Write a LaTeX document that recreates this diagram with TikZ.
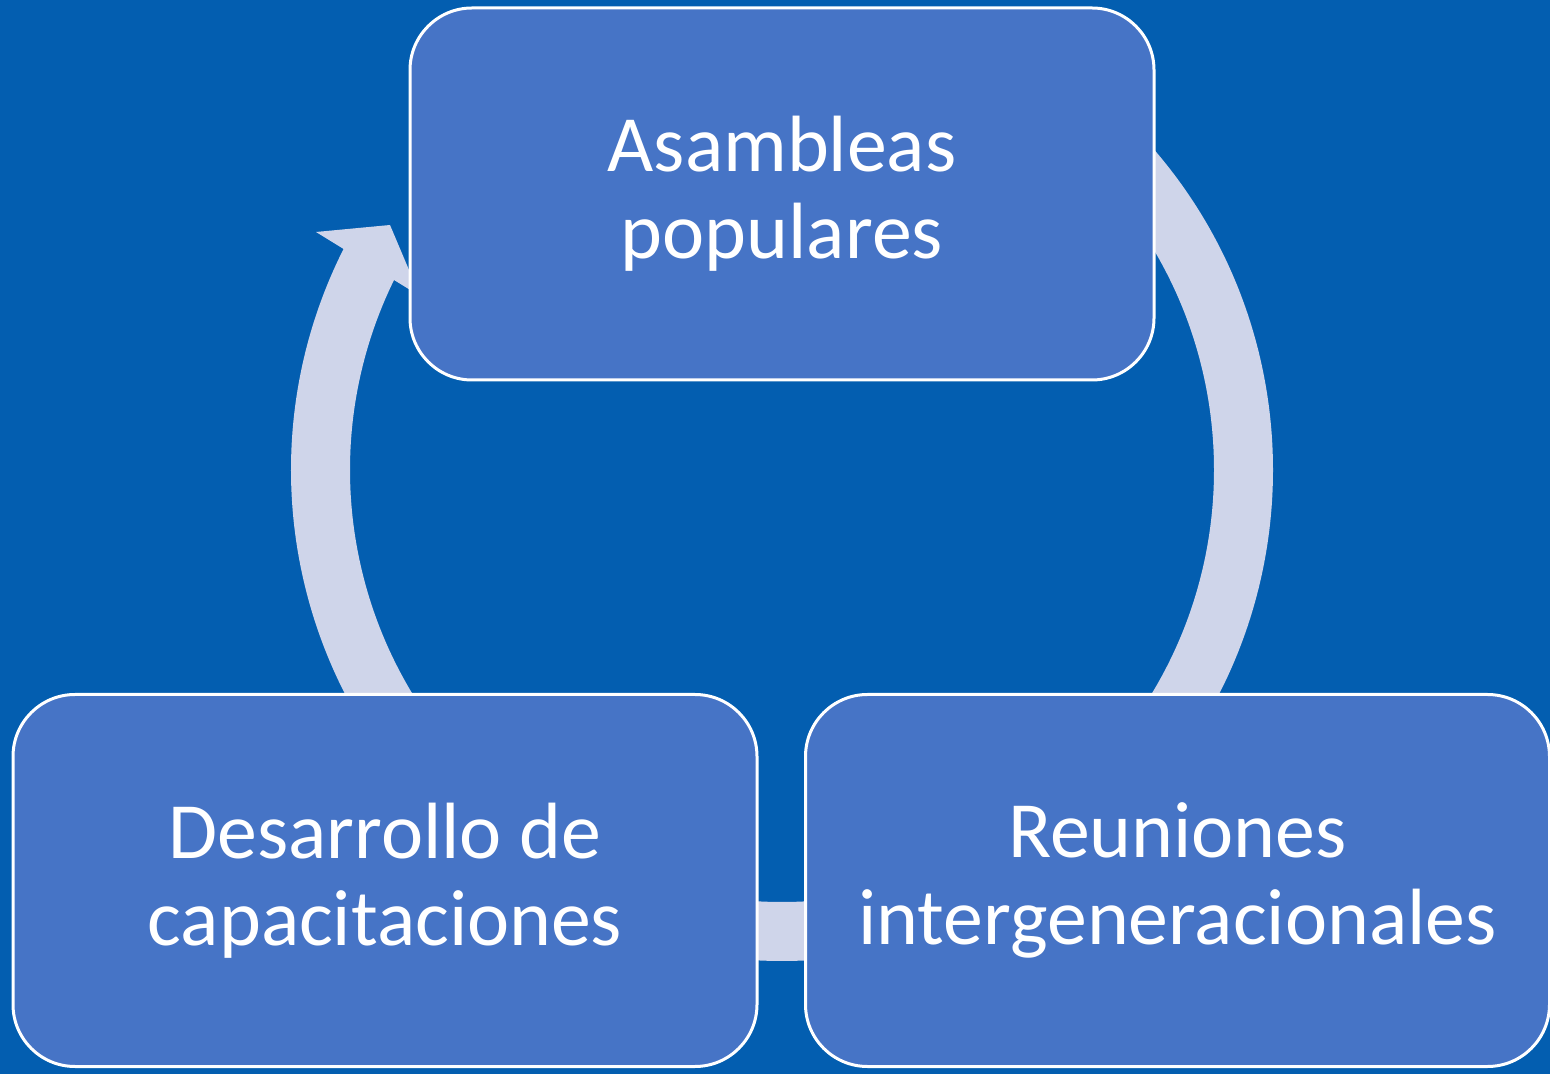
\documentclass[tikz,border=0pt]{standalone}
\usepackage{fontspec}
\setmainfont{Carlito}
\definecolor{bg}{RGB}{3,94,176}
\definecolor{boxfill}{RGB}{70,116,198}
\definecolor{ringcol}{RGB}{207,213,234}
\begin{document}
\begin{tikzpicture}[x=1pt,y=1pt,
  stage/.style={draw=white, line width=3pt, fill=boxfill, rounded corners=62pt,
    minimum width=744pt, minimum height=372pt, inner sep=0pt, align=center,
    text=white, font=\fontsize{79.8}{87}\selectfont},
  ringline/.style={draw=ringcol, line width=59pt},
  headfill/.style={fill=ringcol}]
\fill[bg] (0,0) rectangle (1550,1074);
\useasboundingbox (0,0) rectangle (1550,1074);
\coordinate (c) at (782,604);
\draw[ringline] (c) ++(45:461.5) coordinate (s) arc[start angle=45, end angle=-208, radius=461.5] coordinate (e);
\fill[headfill] (316,842) coordinate (h1) -- (390,849) coordinate (h2) -- (420,778) coordinate (h3) -- cycle;
\node[stage] (a) at (782,880) {Asambleas\\populares};
\node[stage] (b) at (1177.5,193.5) {Reuniones\\intergeneracionales};
\node[stage] (d) at (385,193.5) {Desarrollo de\\capacitaciones};
\end{tikzpicture}
\end{document}
